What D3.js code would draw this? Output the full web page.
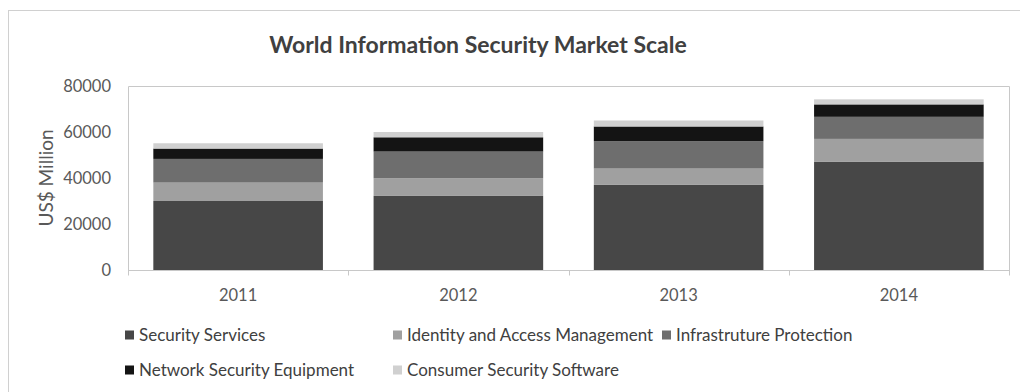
<!DOCTYPE html>
<html>
<head>
<meta charset="utf-8">
<script src="https://cdn.jsdelivr.net/npm/d3@7"></script>
<style>
  html, body { margin: 0; padding: 0; background: #fff; }
  svg { display: block; font-family: Lato, "Open Sans", "Liberation Sans", sans-serif; }
</style>
</head>
<body>
<svg id="chart" width="1020" height="392"></svg>
<script>
// Market size by year, US$ million
const years = ["2011", "2012", "2013", "2014"];
const seriesNames = [
  "Security Services",
  "Identity and Access Management",
  "Infrastruture Protection",
  "Network Security Equipment",
  "Consumer Security Software"
];
const securityServices   = [30000, 32200, 37000, 47000];
const identityAccess     = [8000, 7700, 7100, 10000];
const infrastructure     = [10300, 11600, 11900, 9600];
const networkEquipment   = [4500, 6200, 6400, 5400];
const consumerSoftware   = [2300, 2300, 2600, 2200];
const yTicks = [0, 20000, 40000, 60000, 80000];
const colors = ["#474747", "#a0a0a0", "#6e6e6e", "#141414", "#d0d0d0"];

const seriesValues = [securityServices, identityAccess, infrastructure, networkEquipment, consumerSoftware];
const rows = years.map((y, i) => {
  const r = { year: y };
  seriesNames.forEach((n, s) => { r[n] = seriesValues[s][i]; });
  return r;
});

const svg = d3.select("#chart");

// outer chart frame
svg.append("rect")
  .attr("x", 8.5).attr("y", 10.5)
  .attr("width", 1030).attr("height", 400)
  .attr("fill", "none").attr("stroke", "#d0d0d0");

const plot = { left: 128, right: 1009, top: 86, bottom: 270 };

const x = d3.scaleBand().domain(years).range([plot.left, plot.right]).paddingInner(0.23).paddingOuter(0.115);
const xBand = d3.scaleBand().domain(years).range([plot.left, plot.right]);
const y = d3.scaleLinear().domain([0, 80000]).range([plot.bottom, plot.top]);

// plot area border
svg.append("path")
  .attr("d", `M${plot.left + 0.5},${plot.bottom}V${plot.top + 0.5}H${plot.right + 0.5}V${plot.bottom}`)
  .attr("fill", "none").attr("stroke", "#c8c8c8");

// stacked bars
const stack = d3.stack().keys(seriesNames)(rows);
svg.append("g").selectAll("g")
  .data(stack).join("g")
  .attr("fill", (d, i) => colors[i])
  .selectAll("rect")
  .data(d => d).join("rect")
  .attr("x", d => x(d.data.year))
  .attr("width", x.bandwidth())
  .attr("y", d => y(d[1]))
  .attr("height", d => y(d[0]) - y(d[1]));

// x axis: baseline with ticks at category boundaries
const xAxis = svg.append("g").attr("transform", `translate(0,${plot.bottom + 0.5})`);
xAxis.append("line")
  .attr("x1", plot.left).attr("x2", plot.right + 1)
  .attr("stroke", "#c8c8c8");
xAxis.selectAll("line.tick")
  .data(years.concat(["end"])).join("line")
  .attr("class", "tick")
  .attr("x1", (d, i) => Math.round(plot.left + i * xBand.step()) + 0.5)
  .attr("x2", (d, i) => Math.round(plot.left + i * xBand.step()) + 0.5)
  .attr("y1", 0).attr("y2", 5)
  .attr("stroke", "#c8c8c8");
xAxis.selectAll("text")
  .data(years).join("text")
  .attr("x", d => xBand(d) + xBand.bandwidth() / 2)
  .attr("y", 30)
  .attr("text-anchor", "middle")
  .attr("font-size", 16.5)
  .attr("fill", "#595959")
  .text(d => d);

// y axis labels
const yAxis = d3.axisLeft(y).tickValues(yTicks).tickSize(0).tickPadding(0).tickFormat(d3.format("d"));
const yg = svg.append("g").attr("transform", `translate(111,0)`).call(yAxis);
yg.select(".domain").remove();
yg.selectAll("text")
  .attr("font-size", 16.5)
  .attr("font-family", "Lato, 'Open Sans', sans-serif")
  .attr("fill", "#595959");

// y axis title
svg.append("text")
  .attr("transform", `translate(53,${(plot.top + plot.bottom) / 2}) rotate(-90)`)
  .attr("text-anchor", "middle")
  .attr("font-size", 19)
  .attr("fill", "#595959")
  .text("US$ Million");

// title
svg.append("text")
  .attr("x", 478).attr("y", 53)
  .attr("text-anchor", "middle")
  .attr("font-size", 23)
  .attr("font-weight", "bold")
  .attr("fill", "#404040")
  .text("World Information Security Market Scale");

// legend
const legendPos = [
  { x: 125, y: 335 },
  { x: 393, y: 335 },
  { x: 662, y: 335 },
  { x: 125, y: 370 },
  { x: 393, y: 370 }
];
const legend = svg.append("g").selectAll("g")
  .data(seriesNames).join("g")
  .attr("transform", (d, i) => `translate(${legendPos[i].x},${legendPos[i].y})`);
legend.append("rect")
  .attr("x", 0).attr("y", -4.5).attr("width", 9).attr("height", 9)
  .attr("fill", (d, i) => colors[i]);
legend.append("text")
  .attr("x", 14).attr("y", 6)
  .attr("font-size", 17)
  .attr("fill", "#404040")
  .text(d => d);
</script>
</body>
</html>
